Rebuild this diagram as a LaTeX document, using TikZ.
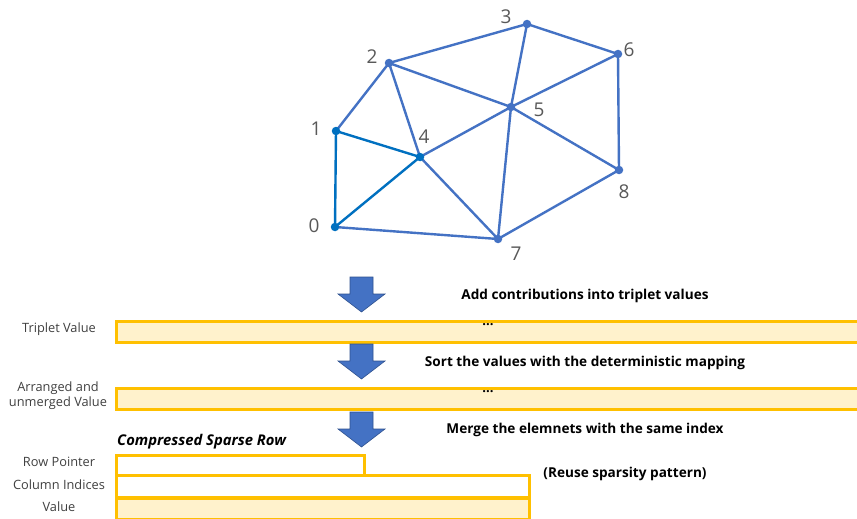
\documentclass[tikz,border=0pt]{standalone}
\usepackage{fontspec}
\setmainfont{Open Sans}
\begin{document}
\begin{tikzpicture}[x=1pt,y=-1pt,
  dot/.style={circle,fill=meshblue,inner sep=0pt,minimum size=8.5pt},
  dotd/.style={circle,fill=meshdark,inner sep=0pt,minimum size=8.5pt},
  edge/.style={draw=meshblue,line width=2.4pt},
  edged/.style={draw=meshdark,line width=2.4pt},
  num/.style={text=numgray,font=\fontsize{19}{19}\selectfont,inner sep=0pt},
  bar/.style={draw=baryellow,line width=3pt,fill=barfill,rectangle,anchor=north west,inner sep=0pt},
  barw/.style={bar,fill=white},
  lbl/.style={font=\fontsize{12.8}{15}\selectfont,text=black!75,align=center,inner sep=0pt},
  stepnote/.style={font=\fontsize{13.6}{14}\selectfont\bfseries,inner sep=0pt},
  barrow/.style={fill=meshblue,draw=arrowedge,line width=0.6pt}
]
\definecolor{meshblue}{HTML}{4472C4}
\definecolor{meshdark}{HTML}{0070C0}
\definecolor{numgray}{HTML}{595959}
\definecolor{baryellow}{HTML}{FFC000}
\definecolor{barfill}{HTML}{FFF2CC}
\definecolor{arrowedge}{HTML}{2F528F}
\clip (0,0) rectangle (857,519);
\fill[white] (0,0) rectangle (857,519);
% mesh nodes
\coordinate (p0) at (335,227);
\coordinate (p1) at (336,131);
\coordinate (p2) at (389,63);
\coordinate (p3) at (527,24);
\coordinate (p4) at (420,157);
\coordinate (p5) at (511,107);
\coordinate (p6) at (618,54);
\coordinate (p7) at (498,239);
\coordinate (p8) at (619,170);
% edges
\draw[edge] (p1)--(p2) (p2)--(p3) (p2)--(p4) (p2)--(p5) (p3)--(p5) (p3)--(p6)
  (p5)--(p6) (p4)--(p5) (p4)--(p7) (p0)--(p7) (p5)--(p7) (p5)--(p8) (p6)--(p8) (p7)--(p8);
\draw[edged] (p0)--(p1) (p0)--(p4) (p1)--(p4);
\foreach \i in {2,3,5,6,7,8} \node[dot] (n\i) at (p\i) {};
\foreach \i in {0,1,4} \node[dotd] (n\i) at (p\i) {};
% numbers
\node[num] (l0) at (314,226) {0};
\node[num] (l1) at (316,129) {1};
\node[num] (l2) at (372,57) {2};
\node[num] (l3) at (506,17) {3};
\node[num] (l4) at (424,137) {4};
\node[num] (l5) at (539,110) {5};
\node[num] (l6) at (629,50) {6};
\node[num] (l7) at (516,254) {7};
\node[num] (l8) at (624,192) {8};
% bars
\node[bar,minimum width=760pt,minimum height=21pt] (trip) at (115,319.5) {};
\node[bar,minimum width=760pt,minimum height=21pt] (arr) at (115,386.5) {};
\node[barw,minimum width=248pt,minimum height=20pt] (rowp) at (115,453.5) {};
\node[barw,minimum width=413pt,minimum height=22pt] (coli) at (115,474) {};
\node[bar,minimum width=413pt,minimum height=21pt] (val) at (115,496.5) {};
\node[font=\fontsize{13}{13}\selectfont\bfseries,inner sep=0pt] (d1) at (488,325) {...};
\node[font=\fontsize{13}{13}\selectfont\bfseries,inner sep=0pt] (d2) at (488,392) {...};
% left labels
\node[lbl] (t1) at (59,329) {Triplet Value};
\node[lbl] (t2) at (58,396) {Arranged and\\unmerged Value};
\node[lbl] (t3) at (59,462) {Row Pointer};
\node[lbl] (t4) at (59,485) {Column Indices};
\node[lbl] (t5) at (59,507) {Value};
\node[font=\fontsize{14.8}{14.8}\selectfont\bfseries\itshape,anchor=west,inner sep=0pt] (csr) at (117,442) {Compressed Sparse Row};
% step texts
\node[stepnote] (s1) at (585,296) {Add contributions into triplet values};
\node[stepnote] (s2) at (585,363) {Sort the values with the deterministic mapping};
\node[stepnote] (s3) at (585,430) {Merge the elemnets with the same index};
\node[stepnote] (s4) at (625,474) {(Reuse sparsity pattern)};
% block arrows
\foreach \y/\nm in {277/a1,344/a2,412/a3}{
  \draw[barrow] (350,\y) -- (373,\y) -- (373,\y+17) -- (385,\y+17) -- (361.5,\y+35) -- (338,\y+17) -- (350,\y+17) -- cycle;
  \coordinate (\nm) at (361.5,\y);
}
\end{tikzpicture}
\end{document}
